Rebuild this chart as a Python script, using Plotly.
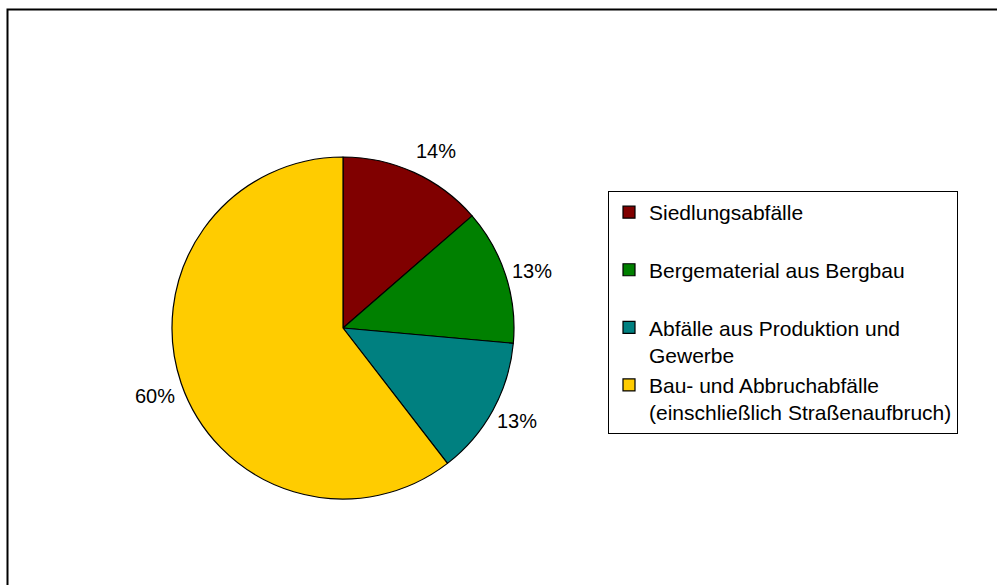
import math
import plotly.graph_objects as go

# Data
categories = [
    "Siedlungsabfälle",
    "Bergematerial aus Bergbau",
    "Abfälle aus Produktion und<br>Gewerbe",
    "Bau- und Abbruchabfälle<br>(einschließlich Straßenaufbruch)",
]
legend_labels = [
    "Siedlungsabfälle<br> ",
    "Bergematerial aus Bergbau<br> ",
    "Abfälle aus Produktion und<br>Gewerbe",
    "Bau- und Abbruchabfälle<br>(einschließlich Straßenaufbruch)",
]
values = [13.6, 12.8, 13.1, 60.4]
label_text = ["14%", "13%", "13%", "60%"]
colors = ["#800000", "#008000", "#008080", "#FFCC00"]

W, H = 997, 585
FONT = "Liberation Sans, Arial, sans-serif"

# pie geometry (pixels)
cx, cy, R = 343, 328, 171

fig = go.Figure()
fig.add_trace(go.Pie(
    labels=legend_labels,
    values=values,
    sort=False,
    direction="clockwise",
    rotation=0,
    marker=dict(colors=colors, line=dict(color="black", width=1.2)),
    textinfo="none",
    hoverinfo="label+percent",
    domain=dict(x=[(cx - R) / W, (cx + R) / W], y=[1 - (cy + R) / H, 1 - (cy - R) / H]),
    showlegend=True,
))

# percent labels placed outside at mid-angle of each slice
total = sum(values)
cum = 0
annotations = []
for v, t in zip(values, label_text):
    mid = (cum + v / 2) / total * 2 * math.pi
    cum += v
    r = R + 28
    px = cx + r * math.sin(mid)
    py = cy - r * math.cos(mid)
    if 0 < mid < 0.6:
        px += 10
    if math.cos(mid) < -0.3 and math.sin(mid) > 0:
        py -= 3
    else:
        py += 4
    annotations.append(dict(
        x=px / W, y=1 - py / H, xref="paper", yref="paper",
        text=t, showarrow=False, xanchor="center", yanchor="middle",
        font=dict(family=FONT, size=20, color="black"),
    ))

fig.update_layout(
    width=W, height=H,
    margin=dict(l=0, r=0, t=0, b=0),
    paper_bgcolor="white",
    plot_bgcolor="white",
    font=dict(family=FONT, size=20, color="black"),
    annotations=annotations,
    legend=dict(
        x=608 / W, y=1 - 312.5 / H, xanchor="left", yanchor="middle",
        bordercolor="black", borderwidth=1, bgcolor="white",
        font=dict(family=FONT, size=21, color="black"),
        traceorder="normal", valign="top",
    ),
    shapes=[dict(
        type="rect", xref="paper", yref="paper",
        x0=7.5 / W, y0=1 - 9.5 / H, x1=1.02, y1=-0.02,
        line=dict(color="black", width=2), fillcolor="rgba(0,0,0,0)",
        layer="below",
    )],
)

fig.write_html(
    "out.html",
    config={"displayModeBar": False},
    post_script="document.body.style.margin='0';document.body.style.padding='0';",
)
